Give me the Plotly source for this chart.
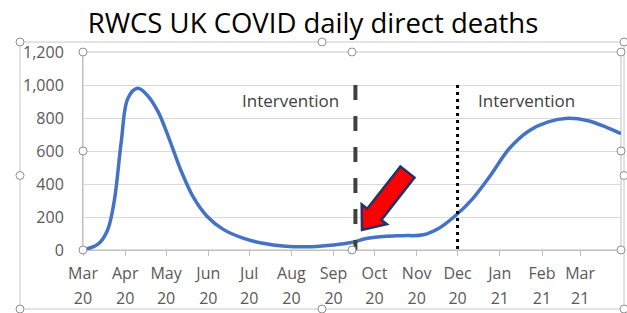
import plotly.graph_objects as go

# ---------------- data ----------------
dates = [
    "2020-03-01", "2020-03-12", "2020-03-19", "2020-03-24", "2020-03-29",
    "2020-04-03", "2020-04-10", "2020-04-17", "2020-04-25", "2020-05-03",
    "2020-05-12", "2020-05-21", "2020-05-31", "2020-06-12", "2020-06-26",
    "2020-07-10", "2020-07-28", "2020-08-16", "2020-09-01", "2020-09-14",
    "2020-09-25", "2020-10-08", "2020-10-22", "2020-11-06", "2020-11-17",
    "2020-11-30", "2020-12-12", "2020-12-25", "2021-01-08", "2021-01-22",
    "2021-02-05", "2021-02-20", "2021-03-06", "2021-03-20", "2021-03-31",
]
deaths = [
    0, 35, 120, 300, 650,
    920, 980, 940, 840, 680,
    480, 320, 205, 125, 73,
    42, 22, 20, 30, 45,
    70, 82, 87, 92, 130,
    212, 310, 450, 615, 720,
    775, 798, 785, 745, 705,
]

intervention_dates = ["2020-09-17", "2020-12-01"]
intervention_top = 1000
intervention_labels = ["Intervention", "Intervention"]

tick_dates = [
    "2020-03-01", "2020-04-01", "2020-05-01", "2020-06-01", "2020-07-01", "2020-08-01",
    "2020-09-01", "2020-10-01", "2020-11-01", "2020-12-01", "2021-01-01", "2021-02-01",
    "2021-03-01",
]
month_labels = ["Mar", "Apr", "May", "Jun", "Jul", "Aug", "Sep", "Oct", "Nov", "Dec", "Jan", "Feb", "Mar"]
year_labels = ["20", "20", "20", "20", "20", "20", "20", "20", "20", "20", "21", "21", "21"]

x_range = ["2020-03-01", "2021-03-31"]
y_range = [0, 1200]
title_text = "RWCS UK COVID daily direct deaths"

# ---------------- layout geometry (pixels) ----------------
W, H = 627, 313
L, R, T, B = 83, 621, 52, 250  # plot area in pixels


def px(x):
    return (x - L) / (R - L)


def py(y):
    return (B - y) / (B - T)


FONT = "Open Sans"
GREY = "#595959"

fig = go.Figure()

# main series
fig.add_trace(go.Scatter(
    x=dates, y=deaths, mode="lines",
    line=dict(color="#4472C4", width=3.5, shape="spline", smoothing=1.0),
    hoverinfo="skip", showlegend=False,
))

# helper trace for the year-row axis (invisible)
fig.add_trace(go.Scatter(
    x=dates, y=deaths, mode="lines", xaxis="x2",
    line=dict(color="rgba(0,0,0,0)", width=0),
    hoverinfo="skip", showlegend=False,
))

# intervention lines
styles = [dict(color="#404040", width=4, dash="15px,16px"),
          dict(color="#000000", width=3, dash="3px,4px")]
for d, st in zip(intervention_dates, styles):
    fig.add_trace(go.Scatter(
        x=[d, d], y=[intervention_top, 0], mode="lines",
        line=st, hoverinfo="skip", showlegend=False,
    ))

# ---------------- shapes: chart/plot area borders, handles, arrow ----------------
shapes = []
border = "#c8c8c8"
CL, CT, CR, CB = 20, 42, 624, 309
shapes.append(dict(type="rect", xref="paper", yref="paper",
                   x0=px(CL), x1=px(CR), y0=py(CB), y1=py(CT),
                   line=dict(color=border, width=1), fillcolor="rgba(0,0,0,0)", layer="below"))
shapes.append(dict(type="rect", xref="paper", yref="paper",
                   x0=0, x1=1, y0=0, y1=1,
                   line=dict(color="#c0c0c0", width=1), fillcolor="rgba(0,0,0,0)", layer="below"))

# arrow (red with navy outline)
tail = [(400.4, 166.4), (414.6, 177.6)]
shaft_base = [(381.4, 219.9), (367.2, 208.7)]
wings = [(386.9, 224.2), (361.7, 204.4)]
tip = (362, 230)
pts = [tail[1], shaft_base[0], wings[0], tip, wings[1], shaft_base[1], tail[0]]
path = "M " + " L ".join(f"{px(a):.5f},{py(b):.5f}" for a, b in pts) + " Z"
shapes.append(dict(type="path", xref="paper", yref="paper", path=path,
                   fillcolor="#FF0000", line=dict(color="#1F3468", width=2.5), layer="above"))

# selection handles
handles = [(L, T), (L, (T + B) / 2), (L, B), ((L + R) / 2, B), (R, B), (R, (T + B) / 2), (R, T),
           ((L + R) / 2, T),
           (CL, CT), (CL, (CT + CB) / 2), (CL, CB), ((CL + CR) / 2, CT), ((CL + CR) / 2, CB),
           (CR, CT), (CR, (CT + CB) / 2), (CR, CB)]
r = 4
for hx, hy in handles:
    shapes.append(dict(type="circle", xref="paper", yref="paper",
                       x0=px(hx - r), x1=px(hx + r), y0=py(hy + r), y1=py(hy - r),
                       line=dict(color="#909090", width=1), fillcolor="white", layer="above"))

annotations = []
for lbl, cx in zip(intervention_labels, [290.5, 526]):
    annotations.append(dict(xref="paper", yref="paper", x=px(cx), y=py(100),
                            text=lbl, showarrow=False, xanchor="center", yanchor="middle",
                            font=dict(family=FONT, size=17, color="#404040")))

fig.update_layout(
    width=W, height=H,
    margin=dict(l=L, r=W - R, t=T, b=H - B, pad=0, autoexpand=False),
    paper_bgcolor="white", plot_bgcolor="white",
    title=dict(text=title_text, x=313 / W, xanchor="center", y=1 - 23 / H, yanchor="middle",
               font=dict(family=FONT, size=27.5, color="#000000")),
    shapes=shapes,
    annotations=annotations,
    xaxis=dict(
        type="date", range=x_range, tickmode="array", tickvals=tick_dates, ticktext=month_labels,
        showgrid=False, showline=True, linecolor="#bfbfbf", linewidth=1,
        ticks="outside", ticklen=5, tickcolor="#bfbfbf", tickangle=0,
        tickfont=dict(family=FONT, size=16, color=GREY), ticklabelstandoff=4,
        zeroline=False, fixedrange=True, automargin=False,
    ),
    xaxis2=dict(
        type="date", range=x_range, overlaying="x", anchor="y", side="bottom",
        tickmode="array", tickvals=tick_dates, ticktext=year_labels,
        showgrid=False, showline=False, ticks="", tickangle=0,
        tickfont=dict(family=FONT, size=16, color=GREY), ticklabelstandoff=37,
        zeroline=False, fixedrange=True, automargin=False,
    ),
    yaxis=dict(
        range=y_range, tickmode="linear", tick0=0, dtick=200, tickformat=",",
        showgrid=True, gridcolor="#d9d9d9", gridwidth=1,
        showline=True, linecolor="#bfbfbf", linewidth=1, ticks="",
        tickfont=dict(family=FONT, size=16, color=GREY), ticklabelstandoff=15,
        zeroline=False, fixedrange=True, automargin=False,
    ),
)

fig.write_html(
    "out.html",
    config={"displayModeBar": False},
    post_script="document.body.style.margin='0px';document.body.style.overflow='hidden';",
)
